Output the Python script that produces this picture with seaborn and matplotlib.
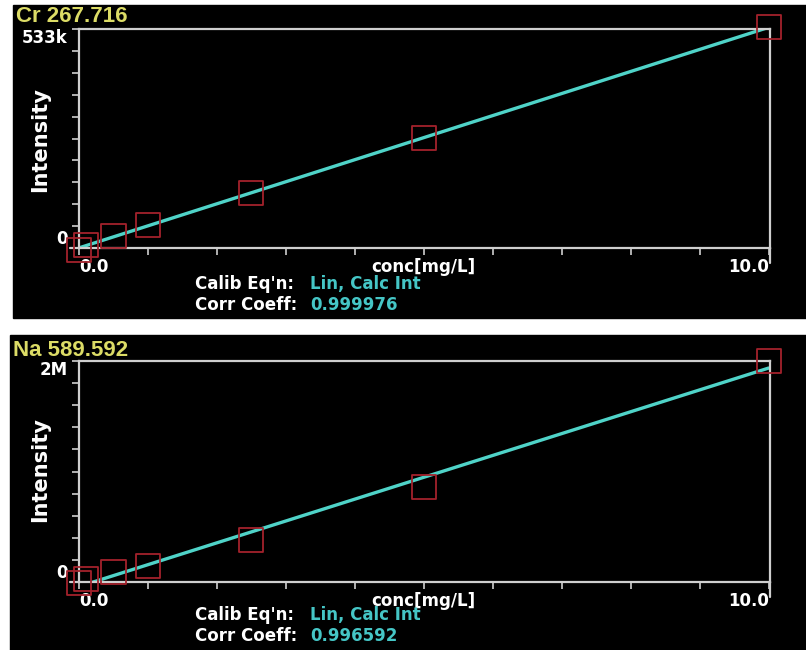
import numpy as np
import seaborn as sns
import matplotlib
matplotlib.use("Agg")
import matplotlib.pyplot as plt
from matplotlib.patches import Rectangle
from matplotlib.lines import Line2D

# Calibration standards (mg/L) and measured intensities
conc = [0.0, 0.1, 0.5, 1.0, 2.5, 5.0, 10.0]
cr_intensity = [-5000, 7000, 30000, 56000, 134000, 268000, 537000]
na_intensity = [-8000, 30000, 90000, 144000, 378000, 856000, 2000000]

cr_title = "Cr 267.716"
na_title = "Na 589.592"
cr_ymax = 533000
na_ymax = 2000000
cr_top_label = "533k"
na_top_label = "2M"
cr_corr = "0.999976"
na_corr = "0.996592"
calib_eqn = "Lin, Calc Int"
x_labels = ["0.0", "", "", "", "", "conc[mg/L]", "", "", "", "", "10.0"]

sns.set_style("white")
plt.rcParams["font.family"] = ["DejaVu Sans"]

W, H = 806, 650
LINE = "#4fd3c8"
SQUARE = "#a3222c"
FRAME = "#cfcfcf"
YELLOW = "#dcdc66"
CYAN = "#45c6c6"

fig = plt.figure(figsize=(W / 100, H / 100), dpi=100, facecolor="white")


def fx(px):
    return px / W


def fy(py):
    return 1 - py / H


def panel(bg_box, ax_box, values, ymax, top_label, title, title_xy,
          ylab_y, eq_y, corr):
    x0, y0, x1, y1 = bg_box
    fig.add_artist(Rectangle((fx(x0), fy(y1)), fx(x1 - x0), (y1 - y0) / H,
                             transform=fig.transFigure, color="black",
                             zorder=-10))
    l, t, r, b = ax_box
    ax = fig.add_axes([fx(l), fy(b), fx(r - l), (b - t) / H])
    ax.set_facecolor("black")

    sns.regplot(x=conc, y=values, ax=ax, scatter=False, ci=None,
                truncate=True, color=LINE, line_kws=dict(lw=2.4, zorder=2))
    sns.scatterplot(x=conc, y=values, ax=ax, marker="s", s=300,
                    facecolor="none", edgecolor=SQUARE, linewidth=1.3,
                    clip_on=False, zorder=3)

    ax.set_xlim(0, 10.02)
    ax.set_ylim(0, ymax)
    ax.set_xlabel("")
    ax.set_ylabel("")

    for side in ["left", "right", "top", "bottom"]:
        ax.spines[side].set_visible(True)
        ax.spines[side].set_color(FRAME)
        ax.spines[side].set_linewidth(1.6)

    # bottom axis runs a little past the left spine, right spine past the bottom
    ax.add_line(Line2D([-9 / (r - l), 0], [0, 0], transform=ax.transAxes,
                       color=FRAME, lw=1.6, clip_on=False))
    ax.add_line(Line2D([1, 1], [0, -15 / (b - t)], transform=ax.transAxes,
                       color=FRAME, lw=1.6, clip_on=False))

    ax.set_xticks(np.arange(0, 11))
    ax.set_xticklabels(x_labels)
    ax.set_yticks(np.linspace(0, ymax, 11))
    ax.set_yticklabels(["0"] + [""] * 9 + [top_label])
    ax.tick_params(axis="both", direction="out", length=5, width=1.2,
                   color=FRAME, labelcolor="white", labelsize=12)
    ax.tick_params(axis="x", pad=2, left=False)
    ax.tick_params(axis="y", pad=3)
    ax.tick_params(bottom=True, left=True)

    xl = ax.get_xticklabels()
    for lbl in xl:
        lbl.set_fontweight("bold")
    xl[0].set_ha("left")
    xl[-1].set_ha("right")
    yl = ax.get_yticklabels()
    for lbl in yl:
        lbl.set_fontweight("bold")
    yl[0].set_va("bottom")
    yl[-1].set_va("top")

    fig.text(fx(title_xy[0]), fy(title_xy[1]), title, color=YELLOW,
             fontsize=16, fontweight="bold",
             family=["Liberation Sans", "DejaVu Sans"], va="center", ha="left")
    fig.text(fx(40), fy(ylab_y), "Intensity", color="white", fontsize=15,
             fontweight="bold", rotation=90, ha="center", va="center")

    fig.text(fx(195), fy(eq_y), "Calib Eq'n:", color="white", fontsize=12,
             fontweight="bold", va="center", ha="left")
    fig.text(fx(310), fy(eq_y), calib_eqn, color=CYAN, fontsize=12,
             fontweight="bold", va="center", ha="left")
    fig.text(fx(195), fy(eq_y + 21), "Corr Coeff:", color="white",
             fontsize=12, fontweight="bold", va="center", ha="left")
    fig.text(fx(310), fy(eq_y + 21), corr, color=CYAN, fontsize=12,
             fontweight="bold", va="center", ha="left")
    return ax


panel((13, 5, 806, 318), (79, 29, 770, 248), cr_intensity, cr_ymax,
      cr_top_label, cr_title, (16, 17), 140, 284, cr_corr)
panel((10, 335, 806, 650), (79, 361, 770, 582), na_intensity, na_ymax,
      na_top_label, na_title, (13, 350), 470, 615, na_corr)

fig.savefig("out.png", dpi=100, facecolor="white")
